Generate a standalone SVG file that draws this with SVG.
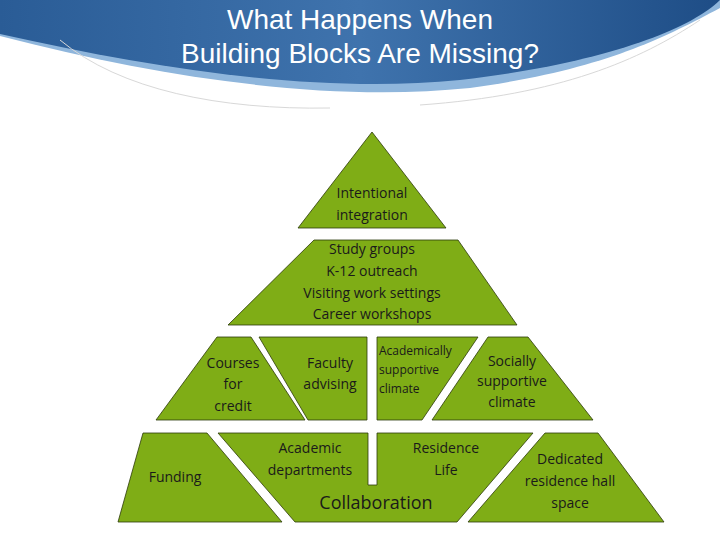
<svg xmlns="http://www.w3.org/2000/svg" width="720" height="540" viewBox="0 0 720 540">
<defs>
<linearGradient id="hdr" x1="0" y1="0" x2="1" y2="0">
<stop offset="0" stop-color="#2a5c96"/><stop offset="0.5" stop-color="#3f73ad"/><stop offset="1" stop-color="#1e4d86"/>
</linearGradient>
<style>
.blk{fill:#7fad16;stroke:#2c3a0a;stroke-width:0.8}
.t{font-family:"Open Sans","Noto Sans",sans-serif;font-size:14px;fill:#1a1a1a;text-anchor:middle}
.s{font-size:12px}
.ttl{font-family:"Liberation Sans",Arial,sans-serif;font-size:28px;fill:#fff;text-anchor:middle}
</style>
</defs>
<rect width="720" height="540" fill="#fff"/>
<g id="header">
<path d="M0,0 H720 V8 C660,40 600,70 470,88 C330,102 170,80 0,36 Z" fill="#8fb6dc"/>
<path d="M0,0 H720 C690,30 600,64 460,80 C320,94 160,70 0,34 Z" fill="url(#hdr)"/>
<path d="M60,40 C120,90 220,110 330,108" fill="none" stroke="#d8d8d8" stroke-width="1"/>
<path d="M700,20 C640,60 560,95 420,105" fill="none" stroke="#d8d8d8" stroke-width="1"/>
<text class="ttl" x="360" y="29" textLength="266" lengthAdjust="spacingAndGlyphs">What Happens When</text>
<text class="ttl" x="360" y="63" textLength="358" lengthAdjust="spacingAndGlyphs">Building Blocks Are Missing?</text>
</g>
<g id="intentional"><polygon class="blk" points="372,132 446,228 298,228"/>
<text class="t" x="372" y="198">Intentional</text><text class="t" x="372" y="220">integration</text></g>
<g id="study"><polygon class="blk" points="314,240 458,240 517,325 228,325"/>
<text class="t" x="372" y="254">Study groups</text><text class="t" x="372" y="276">K-12 outreach</text>
<text class="t" x="372" y="298">Visiting work settings</text><text class="t" x="372" y="319">Career workshops</text></g>
<g id="courses"><polygon class="blk" points="217,337 251,337 305,420 156,420"/>
<text class="t" x="233" y="368">Courses</text><text class="t" x="233" y="389">for</text><text class="t" x="233" y="411">credit</text></g>
<g id="faculty"><polygon class="blk" points="259,337 367,337 367,420 308,420"/>
<text class="t" x="330" y="368">Faculty</text><text class="t" x="330" y="389">advising</text></g>
<g id="academically"><polygon class="blk" points="377,337 478,337 422,420 377,420"/>
<text class="t s" x="379" y="355" style="text-anchor:start">Academically</text>
<text class="t s" x="379" y="374" style="text-anchor:start">supportive</text>
<text class="t s" x="379" y="393" style="text-anchor:start">climate</text></g>
<g id="socially"><polygon class="blk" points="488,337 528,337 593,420 432,420"/>
<text class="t" x="512" y="366">Socially</text><text class="t" x="512" y="386">supportive</text><text class="t" x="512" y="407">climate</text></g>
<g id="funding"><polygon class="blk" points="143,433 207,433 282,522 118,522"/>
<text class="t" x="175" y="482">Funding</text></g>
<g id="academic-residence"><polygon class="blk" points="218,433 368,433 368,485 377,485 377,433 533,433 457,522 295,522"/>
<text class="t" x="310" y="453">Academic</text><text class="t" x="310" y="475">departments</text>
<text class="t" x="446" y="453">Residence</text><text class="t" x="446" y="475">Life</text>
<text class="t" x="376" y="509" style="font-size:18px">Collaboration</text></g>
<g id="dedicated"><polygon class="blk" points="545,433 598,433 664,522 468,522"/>
<text class="t" x="570" y="464">Dedicated</text><text class="t" x="570" y="486">residence hall</text><text class="t" x="570" y="508">space</text></g>
<g id="connectors"/>
</svg>
